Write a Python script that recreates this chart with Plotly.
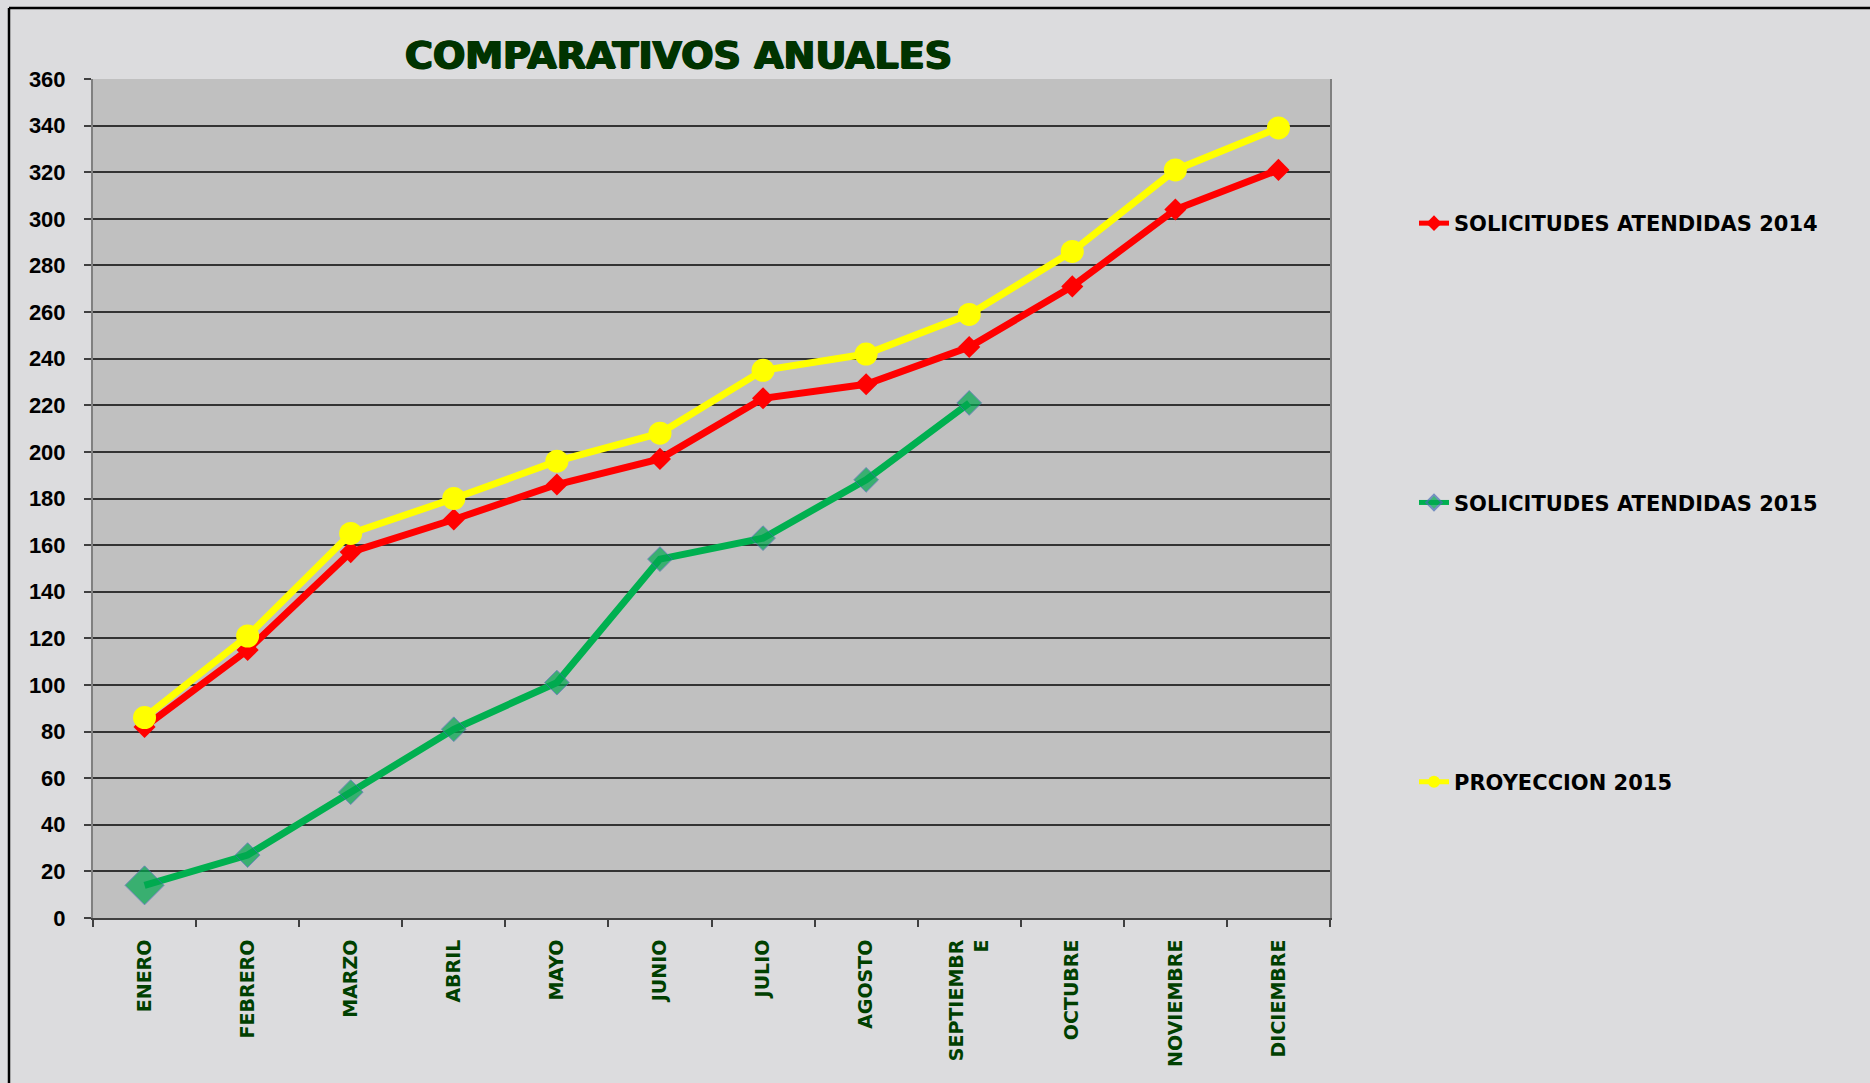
import plotly.graph_objects as go

meses = ["ENERO", "FEBRERO", "MARZO", "ABRIL", "MAYO", "JUNIO", "JULIO",
         "AGOSTO", "SEPTIEMBR<br>E", "OCTUBRE", "NOVIEMBRE", "DICIEMBRE"]
atendidas_2014 = [82, 115, 157, 171, 186, 197, 223, 229, 245, 271, 304, 321]
atendidas_2015 = [14, 27, 54, 81, 101, 154, 163, 188, 221]
proyeccion_2015 = [86, 121, 165, 180, 196, 208, 235, 242, 259, 286, 321, 339]
y_ticks = list(range(0, 361, 20))

W, H = 1870, 1083
L, R, T, B = 93, 540, 79, 165
pw, ph = W - L - R, H - T - B


def px_x(p):
    return (p - L) / pw


def px_y(p):
    return (H - B - p) / ph


fig = go.Figure()
fig.add_trace(go.Scatter(
    x=meses, y=atendidas_2014, name="SOLICITUDES ATENDIDAS 2014",
    mode="lines+markers", legendgroup="a",
    line=dict(color="#ff0000", width=7),
    marker=dict(symbol="diamond", size=17, color="#ff0000"),
))
g_sizes = [30] + [19] * (len(atendidas_2015) - 1)
fig.add_trace(go.Scatter(
    x=meses[:len(atendidas_2015)], y=atendidas_2015, name="SOLICITUDES ATENDIDAS 2015",
    mode="lines+markers", legendgroup="b",
    line=dict(color="#00b050", width=7),
    marker=dict(symbol="diamond", size=g_sizes, color="#00a84f",
                line=dict(color="#4a6fb5", width=1)),
))
fig.add_trace(go.Scatter(
    x=meses, y=proyeccion_2015, name="PROYECCION 2015",
    mode="lines+markers", legendgroup="c",
    line=dict(color="#ffff00", width=7),
    marker=dict(symbol="circle", size=23, color="#ffff00"),
))

fig.update_layout(
    width=W, height=H,
    margin=dict(l=L, r=R, t=T, b=B, pad=0),
    paper_bgcolor="#dcdcde",
    plot_bgcolor="#c0c0c0",
    font=dict(family="Liberation Sans, Arial, sans-serif", color="#000000"),
    showlegend=True,
    legend=dict(
        x=px_x(1414), y=px_y(203), xanchor="left", yanchor="top",
        bgcolor="rgba(0,0,0,0)", borderwidth=0,
        font=dict(family="DejaVu Sans", size=21, color="#000000", weight="bold"),
        tracegroupgap=249, traceorder="grouped",
        itemsizing="constant",
    ),
    annotations=[dict(
        text="<b>COMPARATIVOS ANUALES</b>", xref="paper", yref="paper",
        x=px_x(678), y=px_y(55), xanchor="center", yanchor="middle",
        showarrow=False,
        font=dict(family="DejaVu Sans", size=38, color="#003300",
                  shadow="1px 0 0 #003300, -1px 0 0 #003300, 0 1px 0 #003300"),
    )],
    shapes=[
        dict(type="line", xref="paper", yref="paper",
             x0=px_x(9), x1=px_x(9), y0=px_y(8), y1=px_y(H + 5),
             line=dict(color="#000000", width=2.5)),
        dict(type="line", xref="paper", yref="paper",
             x0=px_x(9), x1=px_x(W + 5), y0=px_y(8), y1=px_y(8),
             line=dict(color="#000000", width=2.5)),
    ],
)

fig.update_xaxes(
    type="category", categoryorder="array", categoryarray=meses,
    range=[-0.5, len(meses) - 0.5],
    tickangle=-90, tickson="boundaries", ticks="outside", ticklen=7,
    tickcolor="#404040", tickwidth=1.5,
    showline=True, linecolor="#404040", linewidth=2, mirror=False,
    showgrid=False, zeroline=False,
    ticklabelstandoff=12,
    tickfont=dict(family="DejaVu Sans", size=19, color="#004000", weight="bold"),
)
fig.update_yaxes(
    range=[0, 360], tickvals=y_ticks, ticks="outside", ticklen=7,
    tickcolor="#404040", tickwidth=1.5,
    showline=True, linecolor="#808080", linewidth=2, mirror=True,
    showgrid=True, gridcolor="#333333", gridwidth=1.5, zeroline=False,
    ticklabelstandoff=14,
    tickfont=dict(family="Liberation Sans", size=22, color="#000000", weight="bold"),
)

fig.write_html("out.html", config={"displayModeBar": False},
               post_script="document.body.style.margin='0';document.body.style.overflow='hidden';")
